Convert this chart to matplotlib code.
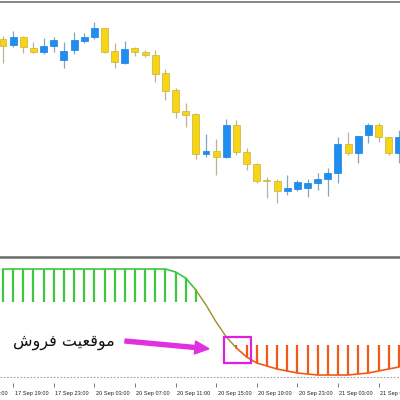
import matplotlib
matplotlib.use("Agg")
import matplotlib.pyplot as plt
from matplotlib.patches import Rectangle, FancyArrow
import numpy as np

# ---- data (price units, hourly candles) ----
opens  = [261, 255, 263, 252, 248, 254, 240, 250, 259, 263, 272, 249, 237, 252, 248, 245, 227, 210, 189, 186,
          146, 149, 143, 175, 148, 136, 120, 119, 109, 111, 112, 117, 121, 127, 156, 147, 165, 175, 163, 147]
highs  = [264, 269, 264, 258, 262, 263, 258, 268, 267, 278, 272, 257, 259, 253, 250, 250, 231, 212, 197, 187,
          166, 161, 181, 180, 152, 137, 123, 121, 125, 120, 121, 127, 132, 163, 168, 164, 177, 177, 163, 170]
lows   = [237, 253, 247, 247, 246, 248, 232, 246, 257, 261, 247, 232, 236, 244, 243, 218, 200, 182, 173, 141,
          143, 125, 142, 145, 130, 117, 102, 97, 105, 109, 103, 110, 104, 117, 145, 137, 157, 158, 145, 137]
closes = [254, 263, 253, 248, 254, 260, 249, 260, 263, 272, 248, 238, 251, 248, 245, 226, 209, 188, 185, 146,
          149, 143, 175, 148, 136, 119, 119, 109, 112, 118, 117, 121, 127, 156, 147, 164, 175, 163, 147, 163]

signal = [131, 131, 131, 131, 131, 131, 131, 131, 131, 131, 131, 131, 131, 131, 131, 131, 131, 128, 122, 110,
          95, 78, 63, 52, 43, 37, 34, 31, 29, 27, 26, 25, 25, 25, 25, 26, 27, 29, 31, 33]
buy_base = 98
sell_base = 55
level = 23.5

tick_idx = [-3, 1, 5, 9, 13, 17, 21, 25, 29, 33, 37]
tick_labels = ["17 Sep 15:00", "17 Sep 19:00", "17 Sep 23:00", "20 Sep 03:00", "20 Sep 07:00", "20 Sep 11:00",
               "20 Sep 15:00", "20 Sep 19:00", "20 Sep 23:00", "21 Sep 03:00", "21 Sep 07:00"]

annotation = "موقعیت فروش"

# ---- Arabic shaping (presentation forms, visual order) ----
def shape_fa(s):
    forms = {
        'م': {'init': '\uFEE3', 'iso': '\uFEE1', 'med': '\uFEE4', 'fin': '\uFEE2'},
        'و': {'iso': '\uFEED', 'fin': '\uFEEE'},
        'ق': {'init': '\uFED7', 'iso': '\uFED5', 'med': '\uFED8', 'fin': '\uFED6'},
        'ع': {'init': '\uFECB', 'iso': '\uFEC9', 'med': '\uFECC', 'fin': '\uFECA'},
        'ی': {'init': '\uFBFE', 'iso': '\uFBFC', 'med': '\uFBFF', 'fin': '\uFBFD'},
        'ت': {'init': '\uFE97', 'iso': '\uFE95', 'med': '\uFE98', 'fin': '\uFE96'},
        'ف': {'init': '\uFED3', 'iso': '\uFED1', 'med': '\uFED4', 'fin': '\uFED2'},
        'ر': {'iso': '\uFEAD', 'fin': '\uFEAE'},
        'ش': {'init': '\uFEB7', 'iso': '\uFEB5', 'med': '\uFEB8', 'fin': '\uFEB6'},
    }
    def joins_next(c):
        return c in forms and 'init' in forms[c]
    out = []
    for i, c in enumerate(s):
        if c not in forms:
            out.append(c)
            continue
        prev = s[i - 1] if i > 0 else ' '
        nxt = s[i + 1] if i + 1 < len(s) else ' '
        left = joins_next(prev)
        right = nxt in forms and joins_next(c)
        if left and right:
            f = 'med'
        elif left:
            f = 'fin'
        elif right:
            f = 'init'
        else:
            f = 'iso'
        out.append(forms[c].get(f, forms[c]['iso']))
    return ''.join(reversed(out))

# ---- figure ----
W = H = 400
fig = plt.figure(figsize=(4, 4), dpi=100)

def fig_rect(x0, y0, x1, y1):
    return [x0 / W, 1 - y1 / H, (x1 - x0) / W, (y1 - y0) / H]

x = np.arange(len(opens))
xlim = (-3 / 10.15, (400 - 3) / 10.15)

# top price panel
ax = fig.add_axes(fig_rect(0, 2, 400, 256))
ax.set_xlim(*xlim)
ax.set_ylim(300 - 256, 300 - 2)
for s in ['left', 'right', 'bottom']:
    ax.spines[s].set_visible(False)
ax.spines['top'].set_color('#707070')
ax.spines['top'].set_linewidth(1.2)
ax.set_xticks([]); ax.set_yticks([])

yellow = '#F7D414'
blue = '#1E8FF0'
bw = 0.68
for i in x:
    o, h, l, c = opens[i], highs[i], lows[i], closes[i]
    up = c >= o
    col = blue if up else yellow
    wick = '#7fa6c8' if up else '#b9b59a'
    ax.vlines(i, l, h, color=wick, lw=0.9, zorder=1)
    lo, hi = min(o, c), max(o, c)
    ax.add_patch(Rectangle((i - bw / 2, lo), bw, max(hi - lo, 1.2), facecolor=col,
                           edgecolor=('#1a7fd8' if up else '#c9b23a'), lw=0.5, zorder=2))

# bottom indicator panel
ax2 = fig.add_axes(fig_rect(0, 257, 400, 383))
ax2.set_xlim(*xlim)
ax2.set_ylim(400 - 383, 400 - 257)
for s in ['left', 'right', 'bottom']:
    ax2.spines[s].set_visible(False)
ax2.spines['top'].set_color('#6a6a6a')
ax2.spines['top'].set_linewidth(1.8)
ax2.set_yticks([])

green = '#3CC83C'
orange = '#F05A14'
olive = '#A08C2A'
for i in x:
    v = signal[i]
    if v > buy_base:
        ax2.vlines(i, buy_base, v, color=green, lw=1.6, zorder=2)
    elif v < sell_base:
        ax2.vlines(i, v, sell_base, color=orange, lw=1.6, zorder=2)

sig = np.array(signal, dtype=float)
g_end = 19
o_start = 23
ax2.plot(x[:g_end + 1], sig[:g_end + 1], color=green, lw=1.2, zorder=3)
ax2.plot(x[g_end:o_start + 1], sig[g_end:o_start + 1], color=olive, lw=1.0, zorder=3)
ax2.plot(x[o_start:], sig[o_start:], color=orange, lw=1.2, zorder=3)
ax2.axhline(level, color='#a0a0b0', lw=0.8, ls=(0, (1.5, 1.5)), zorder=1)

# magenta box and arrow (pixel-based overlay)
ov = fig.add_axes([0, 0, 1, 1], facecolor='none')
ov.set_xlim(0, W); ov.set_ylim(H, 0); ov.axis('off')
ov.add_patch(Rectangle((224, 337), 27, 26, fill=False, edgecolor='#E020E0', lw=1.6, zorder=5))
ov.add_patch(FancyArrow(125, 341, 70, 6.5, width=4, head_width=13, head_length=14,
                        length_includes_head=False, color='#E030E0', zorder=5))
ov.text(64, 342, shape_fa(annotation), ha='center', va='center', fontsize=11.5,
        family=['DejaVu Sans'], color='#111111')

# x tick marks and labels
ax2.set_xticks([t for t in tick_idx if t >= 0])
ax2.set_xticklabels([])
ax2.tick_params(axis='x', length=3, width=0.6, color='#606060', direction='out', pad=0)
for t, lab in zip(tick_idx, tick_labels):
    px = 3 + 10.15 * t
    ov.text(px + 1.5, 393, lab, ha='left', va='center', fontsize=4.1,
            family=['Liberation Sans'], color='#202020')

fig.savefig('out.png', dpi=100)
